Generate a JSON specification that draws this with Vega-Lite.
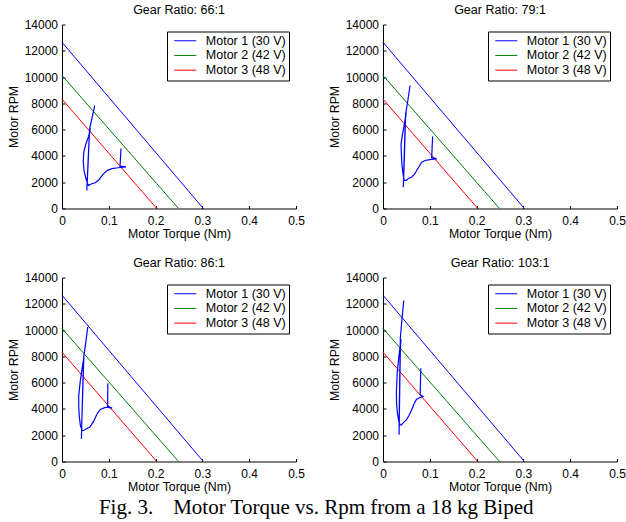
{
  "$schema": "https://vega.github.io/schema/vega-lite/v6.json",
  "background": "white",
  "padding": {"left": 7, "top": 3.5, "right": 0, "bottom": 3},
  "config": {
    "font": "Liberation Sans",
    "view": {"stroke": null},
    "axis": {
      "grid": false,
      "domainColor": "#000000",
      "tickColor": "#000000",
      "tickSize": -3,
      "labelColor": "#000000",
      "labelFont": "Liberation Sans",
      "labelFontSize": 12,
      "labelFlush": false,
      "labelOverlap": false,
      "labelBound": false,
      "labelSeparation": 0,
      "titleColor": "#000000",
      "titleFont": "Liberation Sans",
      "titleFontSize": 12.3,
      "titleFontWeight": "normal"
    },
    "title": {
      "font": "Liberation Sans",
      "fontSize": 12.5,
      "fontWeight": "normal",
      "color": "#000000",
      "frame": "group",
      "anchor": "middle",
      "offset": 2
    },
    "legend": {
      "orient": "top-right",
      "offset": 7,
      "title": null,
      "strokeColor": "#000000",
      "fillColor": "#ffffff",
      "padding": 3,
      "symbolType": "stroke",
      "symbolSize": 484,
      "symbolStrokeWidth": 1,
      "clipHeight": 12.5,
      "rowPadding": 1.7,
      "labelFont": "Liberation Sans",
      "labelFontSize": 12.5,
      "labelColor": "#000000",
      "labelOffset": 9,
      "symbolOffset": 3.8,
      "labelLimit": 0
    }
  },
  "title": {
    "text": "Fig. 3.\u00a0\u00a0\u00a0\u2009Motor Torque vs. Rpm from a 18 kg Biped",
    "orient": "bottom",
    "font": "Liberation Serif",
    "fontSize": 21,
    "fontWeight": "normal",
    "color": "#000000",
    "frame": "bounds",
    "anchor": "middle",
    "offset": 4
  },
  "datasets": {
    "motors": [
      {"motor": "Motor 1 (30 V)", "torque": 0, "rpm": 12650},
      {"motor": "Motor 1 (30 V)", "torque": 0.302, "rpm": 0},
      {"motor": "Motor 2 (42 V)", "torque": 0, "rpm": 10120},
      {"motor": "Motor 2 (42 V)", "torque": 0.249, "rpm": 0},
      {"motor": "Motor 3 (48 V)", "torque": 0, "rpm": 8320},
      {"motor": "Motor 3 (48 V)", "torque": 0.2025, "rpm": 0}
    ],
    "traj": [
      {"ratio": "66:1", "i": 1, "torque": 0.070, "rpm": 7830},
      {"ratio": "66:1", "i": 2, "torque": 0.0645, "rpm": 6950},
      {"ratio": "66:1", "i": 3, "torque": 0.059, "rpm": 6060},
      {"ratio": "66:1", "i": 4, "torque": 0.0575, "rpm": 4800},
      {"ratio": "66:1", "i": 5, "torque": 0.0555, "rpm": 3200},
      {"ratio": "66:1", "i": 6, "torque": 0.053, "rpm": 1370},
      {"ratio": "66:1", "i": 7, "torque": 0.0545, "rpm": 2600},
      {"ratio": "66:1", "i": 8, "torque": 0.0565, "rpm": 4200},
      {"ratio": "66:1", "i": 9, "torque": 0.0585, "rpm": 5600},
      {"ratio": "66:1", "i": 10, "torque": 0.0605, "rpm": 6100},
      {"ratio": "66:1", "i": 11, "torque": 0.057, "rpm": 5500},
      {"ratio": "66:1", "i": 12, "torque": 0.051, "rpm": 4900},
      {"ratio": "66:1", "i": 13, "torque": 0.0465, "rpm": 4300},
      {"ratio": "66:1", "i": 14, "torque": 0.0455, "rpm": 3600},
      {"ratio": "66:1", "i": 15, "torque": 0.047, "rpm": 2900},
      {"ratio": "66:1", "i": 16, "torque": 0.051, "rpm": 2300},
      {"ratio": "66:1", "i": 17, "torque": 0.0545, "rpm": 1900},
      {"ratio": "66:1", "i": 18, "torque": 0.0565, "rpm": 1760},
      {"ratio": "66:1", "i": 19, "torque": 0.0635, "rpm": 1880},
      {"ratio": "66:1", "i": 20, "torque": 0.071, "rpm": 1960},
      {"ratio": "66:1", "i": 21, "torque": 0.078, "rpm": 2150},
      {"ratio": "66:1", "i": 22, "torque": 0.088, "rpm": 2620},
      {"ratio": "66:1", "i": 23, "torque": 0.097, "rpm": 2900},
      {"ratio": "66:1", "i": 24, "torque": 0.107, "rpm": 3030},
      {"ratio": "66:1", "i": 25, "torque": 0.120, "rpm": 3100},
      {"ratio": "66:1", "i": 26, "torque": 0.130, "rpm": 3140},
      {"ratio": "66:1", "i": 27, "torque": 0.137, "rpm": 3160},
      {"ratio": "66:1", "i": 28, "torque": 0.128, "rpm": 3200},
      {"ratio": "66:1", "i": 29, "torque": 0.124, "rpm": 3210},
      {"ratio": "66:1", "i": 30, "torque": 0.126, "rpm": 4560},
      {"ratio": "79:1", "i": 1, "torque": 0.0577, "rpm": 9360},
      {"ratio": "79:1", "i": 2, "torque": 0.053, "rpm": 8200},
      {"ratio": "79:1", "i": 3, "torque": 0.0484, "rpm": 7200},
      {"ratio": "79:1", "i": 4, "torque": 0.047, "rpm": 5500},
      {"ratio": "79:1", "i": 5, "torque": 0.0455, "rpm": 3600},
      {"ratio": "79:1", "i": 6, "torque": 0.0434, "rpm": 1620},
      {"ratio": "79:1", "i": 7, "torque": 0.0445, "rpm": 3000},
      {"ratio": "79:1", "i": 8, "torque": 0.046, "rpm": 4800},
      {"ratio": "79:1", "i": 9, "torque": 0.0475, "rpm": 6600},
      {"ratio": "79:1", "i": 10, "torque": 0.0495, "rpm": 7300},
      {"ratio": "79:1", "i": 11, "torque": 0.0465, "rpm": 6600},
      {"ratio": "79:1", "i": 12, "torque": 0.042, "rpm": 5700},
      {"ratio": "79:1", "i": 13, "torque": 0.0385, "rpm": 4900},
      {"ratio": "79:1", "i": 14, "torque": 0.0395, "rpm": 4000},
      {"ratio": "79:1", "i": 15, "torque": 0.0405, "rpm": 3300},
      {"ratio": "79:1", "i": 16, "torque": 0.043, "rpm": 2600},
      {"ratio": "79:1", "i": 17, "torque": 0.0455, "rpm": 2150},
      {"ratio": "79:1", "i": 18, "torque": 0.049, "rpm": 2130},
      {"ratio": "79:1", "i": 19, "torque": 0.055, "rpm": 2300},
      {"ratio": "79:1", "i": 20, "torque": 0.061, "rpm": 2380},
      {"ratio": "79:1", "i": 21, "torque": 0.067, "rpm": 2600},
      {"ratio": "79:1", "i": 22, "torque": 0.072, "rpm": 2890},
      {"ratio": "79:1", "i": 23, "torque": 0.0826, "rpm": 3525},
      {"ratio": "79:1", "i": 24, "torque": 0.090, "rpm": 3650},
      {"ratio": "79:1", "i": 25, "torque": 0.097, "rpm": 3700},
      {"ratio": "79:1", "i": 26, "torque": 0.107, "rpm": 3750},
      {"ratio": "79:1", "i": 27, "torque": 0.1147, "rpm": 3780},
      {"ratio": "79:1", "i": 28, "torque": 0.108, "rpm": 3850},
      {"ratio": "79:1", "i": 29, "torque": 0.104, "rpm": 3870},
      {"ratio": "79:1", "i": 30, "torque": 0.106, "rpm": 5480},
      {"ratio": "86:1", "i": 1, "torque": 0.055, "rpm": 10220},
      {"ratio": "86:1", "i": 2, "torque": 0.051, "rpm": 9100},
      {"ratio": "86:1", "i": 3, "torque": 0.0464, "rpm": 7940},
      {"ratio": "86:1", "i": 4, "torque": 0.045, "rpm": 6000},
      {"ratio": "86:1", "i": 5, "torque": 0.043, "rpm": 3800},
      {"ratio": "86:1", "i": 6, "torque": 0.0414, "rpm": 1725},
      {"ratio": "86:1", "i": 7, "torque": 0.0425, "rpm": 3200},
      {"ratio": "86:1", "i": 8, "torque": 0.044, "rpm": 5200},
      {"ratio": "86:1", "i": 9, "torque": 0.0455, "rpm": 7000},
      {"ratio": "86:1", "i": 10, "torque": 0.047, "rpm": 7950},
      {"ratio": "86:1", "i": 11, "torque": 0.0435, "rpm": 7200},
      {"ratio": "86:1", "i": 12, "torque": 0.039, "rpm": 6100},
      {"ratio": "86:1", "i": 13, "torque": 0.0357, "rpm": 5000},
      {"ratio": "86:1", "i": 14, "torque": 0.0357, "rpm": 4200},
      {"ratio": "86:1", "i": 15, "torque": 0.037, "rpm": 3400},
      {"ratio": "86:1", "i": 16, "torque": 0.0395, "rpm": 2700},
      {"ratio": "86:1", "i": 17, "torque": 0.0435, "rpm": 2350},
      {"ratio": "86:1", "i": 18, "torque": 0.047, "rpm": 2380},
      {"ratio": "86:1", "i": 19, "torque": 0.052, "rpm": 2490},
      {"ratio": "86:1", "i": 20, "torque": 0.0593, "rpm": 2610},
      {"ratio": "86:1", "i": 21, "torque": 0.0679, "rpm": 3070},
      {"ratio": "86:1", "i": 22, "torque": 0.075, "rpm": 3630},
      {"ratio": "86:1", "i": 23, "torque": 0.082, "rpm": 3960},
      {"ratio": "86:1", "i": 24, "torque": 0.090, "rpm": 4080},
      {"ratio": "86:1", "i": 25, "torque": 0.0964, "rpm": 4130},
      {"ratio": "86:1", "i": 26, "torque": 0.107, "rpm": 4060},
      {"ratio": "86:1", "i": 27, "torque": 0.099, "rpm": 4180},
      {"ratio": "86:1", "i": 28, "torque": 0.0975, "rpm": 4200},
      {"ratio": "86:1", "i": 29, "torque": 0.0979, "rpm": 5960},
      {"ratio": "103:1", "i": 1, "torque": 0.0443, "rpm": 12250},
      {"ratio": "103:1", "i": 2, "torque": 0.0405, "rpm": 10800},
      {"ratio": "103:1", "i": 3, "torque": 0.0371, "rpm": 9460},
      {"ratio": "103:1", "i": 4, "torque": 0.036, "rpm": 7000},
      {"ratio": "103:1", "i": 5, "torque": 0.035, "rpm": 4500},
      {"ratio": "103:1", "i": 6, "torque": 0.0343, "rpm": 2030},
      {"ratio": "103:1", "i": 7, "torque": 0.0352, "rpm": 4000},
      {"ratio": "103:1", "i": 8, "torque": 0.0362, "rpm": 6500},
      {"ratio": "103:1", "i": 9, "torque": 0.0372, "rpm": 8700},
      {"ratio": "103:1", "i": 10, "torque": 0.0385, "rpm": 9300},
      {"ratio": "103:1", "i": 11, "torque": 0.034, "rpm": 8000},
      {"ratio": "103:1", "i": 12, "torque": 0.0305, "rpm": 6800},
      {"ratio": "103:1", "i": 13, "torque": 0.0286, "rpm": 5300},
      {"ratio": "103:1", "i": 14, "torque": 0.029, "rpm": 4400},
      {"ratio": "103:1", "i": 15, "torque": 0.031, "rpm": 3600},
      {"ratio": "103:1", "i": 16, "torque": 0.034, "rpm": 3000},
      {"ratio": "103:1", "i": 17, "torque": 0.037, "rpm": 2780},
      {"ratio": "103:1", "i": 18, "torque": 0.0393, "rpm": 2790},
      {"ratio": "103:1", "i": 19, "torque": 0.044, "rpm": 2980},
      {"ratio": "103:1", "i": 20, "torque": 0.050, "rpm": 3170},
      {"ratio": "103:1", "i": 21, "torque": 0.0555, "rpm": 3500},
      {"ratio": "103:1", "i": 22, "torque": 0.0607, "rpm": 3880},
      {"ratio": "103:1", "i": 23, "torque": 0.0665, "rpm": 4400},
      {"ratio": "103:1", "i": 24, "torque": 0.0714, "rpm": 4720},
      {"ratio": "103:1", "i": 25, "torque": 0.078, "rpm": 4850},
      {"ratio": "103:1", "i": 26, "torque": 0.0857, "rpm": 4945},
      {"ratio": "103:1", "i": 27, "torque": 0.0805, "rpm": 5050},
      {"ratio": "103:1", "i": 28, "torque": 0.0795, "rpm": 5072},
      {"ratio": "103:1", "i": 29, "torque": 0.0807, "rpm": 7100}
    ]
  },
  "columns": 2,
  "spacing": {"column": 87, "row": 69},
  "bounds": "flush",
  "resolve": {"legend": {"color": "independent"}},
  "concat": [
    {
      "width": 234, "height": 184,
      "title": "Gear Ratio: 66:1",
      "layer": [
        {
          "data": {"name": "motors"},
          "mark": {"type": "line", "strokeWidth": 1},
          "encoding": {
            "x": {"field": "torque", "type": "quantitative", "title": "Motor Torque (Nm)", "scale": {"domain": [0, 0.5], "nice": false, "zero": false}, "axis": {"tickCount": 5, "format": "~g", "labelOverlap": false, "labelPadding": 9.5, "titlePadding": 1.2}},
            "y": {"field": "rpm", "type": "quantitative", "title": "Motor RPM", "scale": {"domain": [0, 14000], "nice": false, "zero": false}, "axis": {"tickCount": 7, "format": "d", "labelOverlap": false, "labelPadding": 7.5, "titlePadding": 4}},
            "color": {"field": "motor", "type": "nominal", "scale": {"domain": ["Motor 1 (30 V)", "Motor 2 (42 V)", "Motor 3 (48 V)"], "range": ["#0000ff", "#008000", "#ff0000"]}}
          }
        },
        {
          "data": {"name": "traj"},
          "transform": [{"filter": "datum.ratio == '66:1'"}],
          "mark": {"type": "line", "strokeWidth": 1.2, "color": "#0000ff"},
          "encoding": {
            "x": {"field": "torque", "type": "quantitative", "title": "Motor Torque (Nm)", "axis": {"tickCount": 5, "format": "~g", "labelOverlap": false, "labelPadding": 9.5, "titlePadding": 1.2}},
            "y": {"field": "rpm", "type": "quantitative", "title": "Motor RPM", "axis": {"tickCount": 7, "format": "d", "labelOverlap": false, "labelPadding": 7.5, "titlePadding": 4}},
            "order": {"field": "i", "type": "quantitative"}
          }
        }
      ]
    },
    {
      "width": 234, "height": 184,
      "title": "Gear Ratio: 79:1",
      "layer": [
        {
          "data": {"name": "motors"},
          "mark": {"type": "line", "strokeWidth": 1},
          "encoding": {
            "x": {"field": "torque", "type": "quantitative", "title": "Motor Torque (Nm)", "scale": {"domain": [0, 0.5], "nice": false, "zero": false}, "axis": {"tickCount": 5, "format": "~g", "labelOverlap": false, "labelPadding": 9.5, "titlePadding": 1.2}},
            "y": {"field": "rpm", "type": "quantitative", "title": "Motor RPM", "scale": {"domain": [0, 14000], "nice": false, "zero": false}, "axis": {"tickCount": 7, "format": "d", "labelOverlap": false, "labelPadding": 7.5, "titlePadding": 4}},
            "color": {"field": "motor", "type": "nominal", "scale": {"domain": ["Motor 1 (30 V)", "Motor 2 (42 V)", "Motor 3 (48 V)"], "range": ["#0000ff", "#008000", "#ff0000"]}}
          }
        },
        {
          "data": {"name": "traj"},
          "transform": [{"filter": "datum.ratio == '79:1'"}],
          "mark": {"type": "line", "strokeWidth": 1.2, "color": "#0000ff"},
          "encoding": {
            "x": {"field": "torque", "type": "quantitative", "title": "Motor Torque (Nm)", "axis": {"tickCount": 5, "format": "~g", "labelOverlap": false, "labelPadding": 9.5, "titlePadding": 1.2}},
            "y": {"field": "rpm", "type": "quantitative", "title": "Motor RPM", "axis": {"tickCount": 7, "format": "d", "labelOverlap": false, "labelPadding": 7.5, "titlePadding": 4}},
            "order": {"field": "i", "type": "quantitative"}
          }
        }
      ]
    },
    {
      "width": 234, "height": 184,
      "title": "Gear Ratio: 86:1",
      "layer": [
        {
          "data": {"name": "motors"},
          "mark": {"type": "line", "strokeWidth": 1},
          "encoding": {
            "x": {"field": "torque", "type": "quantitative", "title": "Motor Torque (Nm)", "scale": {"domain": [0, 0.5], "nice": false, "zero": false}, "axis": {"tickCount": 5, "format": "~g", "labelOverlap": false, "labelPadding": 9.5, "titlePadding": 1.2}},
            "y": {"field": "rpm", "type": "quantitative", "title": "Motor RPM", "scale": {"domain": [0, 14000], "nice": false, "zero": false}, "axis": {"tickCount": 7, "format": "d", "labelOverlap": false, "labelPadding": 7.5, "titlePadding": 4}},
            "color": {"field": "motor", "type": "nominal", "scale": {"domain": ["Motor 1 (30 V)", "Motor 2 (42 V)", "Motor 3 (48 V)"], "range": ["#0000ff", "#008000", "#ff0000"]}}
          }
        },
        {
          "data": {"name": "traj"},
          "transform": [{"filter": "datum.ratio == '86:1'"}],
          "mark": {"type": "line", "strokeWidth": 1.2, "color": "#0000ff"},
          "encoding": {
            "x": {"field": "torque", "type": "quantitative", "title": "Motor Torque (Nm)", "axis": {"tickCount": 5, "format": "~g", "labelOverlap": false, "labelPadding": 9.5, "titlePadding": 1.2}},
            "y": {"field": "rpm", "type": "quantitative", "title": "Motor RPM", "axis": {"tickCount": 7, "format": "d", "labelOverlap": false, "labelPadding": 7.5, "titlePadding": 4}},
            "order": {"field": "i", "type": "quantitative"}
          }
        }
      ]
    },
    {
      "width": 234, "height": 184,
      "title": "Gear Ratio: 103:1",
      "layer": [
        {
          "data": {"name": "motors"},
          "mark": {"type": "line", "strokeWidth": 1},
          "encoding": {
            "x": {"field": "torque", "type": "quantitative", "title": "Motor Torque (Nm)", "scale": {"domain": [0, 0.5], "nice": false, "zero": false}, "axis": {"tickCount": 5, "format": "~g", "labelOverlap": false, "labelPadding": 9.5, "titlePadding": 1.2}},
            "y": {"field": "rpm", "type": "quantitative", "title": "Motor RPM", "scale": {"domain": [0, 14000], "nice": false, "zero": false}, "axis": {"tickCount": 7, "format": "d", "labelOverlap": false, "labelPadding": 7.5, "titlePadding": 4}},
            "color": {"field": "motor", "type": "nominal", "scale": {"domain": ["Motor 1 (30 V)", "Motor 2 (42 V)", "Motor 3 (48 V)"], "range": ["#0000ff", "#008000", "#ff0000"]}}
          }
        },
        {
          "data": {"name": "traj"},
          "transform": [{"filter": "datum.ratio == '103:1'"}],
          "mark": {"type": "line", "strokeWidth": 1.2, "color": "#0000ff"},
          "encoding": {
            "x": {"field": "torque", "type": "quantitative", "title": "Motor Torque (Nm)", "axis": {"tickCount": 5, "format": "~g", "labelOverlap": false, "labelPadding": 9.5, "titlePadding": 1.2}},
            "y": {"field": "rpm", "type": "quantitative", "title": "Motor RPM", "axis": {"tickCount": 7, "format": "d", "labelOverlap": false, "labelPadding": 7.5, "titlePadding": 4}},
            "order": {"field": "i", "type": "quantitative"}
          }
        }
      ]
    }
  ]
}
